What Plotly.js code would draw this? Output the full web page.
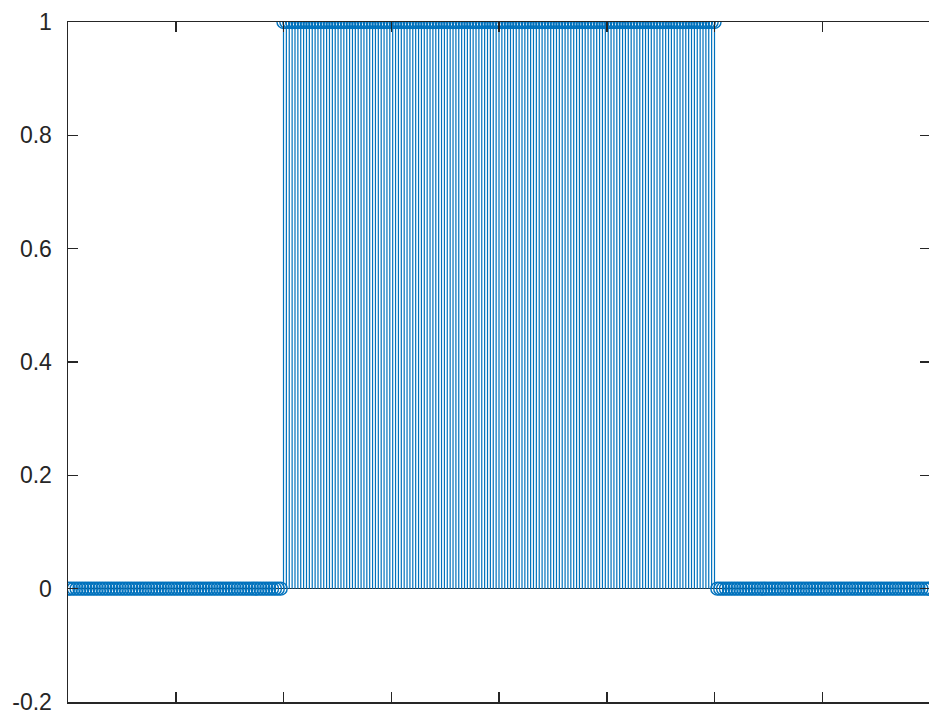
<!DOCTYPE html>
<html>
<head>
<meta charset="utf-8">
<script src="https://cdn.plot.ly/plotly-3.0.1.min.js"></script>
<style>html,body{margin:0;padding:0;overflow:hidden;background:#fff;}</style>
</head>
<body>
<div id="chart"></div>
<script>
// sample index n (x positions)
var n = [
-150,-149,-148,-147,-146,-145,-144,-143,-142,-141,-140,-139,-138,-137,-136,-135,-134,-133,-132,-131,
-130,-129,-128,-127,-126,-125,-124,-123,-122,-121,-120,-119,-118,-117,-116,-115,-114,-113,-112,-111,
-110,-109,-108,-107,-106,-105,-104,-103,-102,-101,-100,-99,-98,-97,-96,-95,-94,-93,-92,-91,
-90,-89,-88,-87,-86,-85,-84,-83,-82,-81,-80,-79,-78,-77,-76,-75,-74,-73,-72,-71,
-70,-69,-68,-67,-66,-65,-64,-63,-62,-61,-60,-59,-58,-57,-56,-55,-54,-53,-52,-51,
-50,-49,-48,-47,-46,-45,-44,-43,-42,-41,-40,-39,-38,-37,-36,-35,-34,-33,-32,-31,
-30,-29,-28,-27,-26,-25,-24,-23,-22,-21,-20,-19,-18,-17,-16,-15,-14,-13,-12,-11,
-10,-9,-8,-7,-6,-5,-4,-3,-2,-1,0,1,2,3,4,5,6,7,8,9,
10,11,12,13,14,15,16,17,18,19,20,21,22,23,24,25,26,27,28,29,
30,31,32,33,34,35,36,37,38,39,40,41,42,43,44,45,46,47,48,49,
50,51,52,53,54,55,56,57,58,59,60,61,62,63,64,65,66,67,68,69,
70,71,72,73,74,75,76,77,78,79,80,81,82,83,84,85,86,87,88,89,
90,91,92,93,94,95,96,97,98,99,100,101,102,103,104,105,106,107,108,109,
110,111,112,113,114,115,116,117,118,119,120,121,122,123,124,125,126,127,128,129,
130,131,132,133,134,135,136,137,138,139,140,141,142,143,144,145,146,147,148,149,
150];
// pulse values
var values = [
0,0,0,0,0,0,0,0,0,0,0,0,0,0,0,0,0,0,0,0,
0,0,0,0,0,0,0,0,0,0,0,0,0,0,0,0,0,0,0,0,
0,0,0,0,0,0,0,0,0,0,0,0,0,0,0,0,0,0,0,0,
0,0,0,0,0,0,0,0,0,0,0,0,0,0,0,1,1,1,1,1,
1,1,1,1,1,1,1,1,1,1,1,1,1,1,1,1,1,1,1,1,
1,1,1,1,1,1,1,1,1,1,1,1,1,1,1,1,1,1,1,1,
1,1,1,1,1,1,1,1,1,1,1,1,1,1,1,1,1,1,1,1,
1,1,1,1,1,1,1,1,1,1,1,1,1,1,1,1,1,1,1,1,
1,1,1,1,1,1,1,1,1,1,1,1,1,1,1,1,1,1,1,1,
1,1,1,1,1,1,1,1,1,1,1,1,1,1,1,1,1,1,1,1,
1,1,1,1,1,1,1,1,1,1,1,1,1,1,1,1,1,1,1,1,
1,1,1,1,1,1,0,0,0,0,0,0,0,0,0,0,0,0,0,0,
0,0,0,0,0,0,0,0,0,0,0,0,0,0,0,0,0,0,0,0,
0,0,0,0,0,0,0,0,0,0,0,0,0,0,0,0,0,0,0,0,
0,0,0,0,0,0,0,0,0,0,0,0,0,0,0,0,0,0,0,0,
0];
var yTickVals = [-0.2, 0, 0.2, 0.4, 0.6, 0.8, 1];
var yTickText = ["-0.2", "0", "0.2", "0.4", "0.6", "0.8", "1"];

var stemX = [], stemY = [];
for (var i = 0; i < n.length; i++) {
  stemX.push(n[i], n[i], null);
  stemY.push(0, values[i], null);
}
var blue = '#0072BD';
var dark = '#262626';
var data = [
  {x: stemX, y: stemY, type: 'scatter', mode: 'lines',
   line: {color: blue, width: 1.2}, hoverinfo: 'skip', showlegend: false},
  {x: n, y: values, type: 'scatter', mode: 'markers',
   marker: {symbol: 'circle-open', size: 13, color: blue, line: {width: 1.4, color: blue}},
   showlegend: false}
];
var layout = {
  width: 931, height: 715,
  margin: {l: 68, r: 1, t: 22, b: 13},
  paper_bgcolor: '#fff', plot_bgcolor: '#fff',
  font: {family: 'Liberation Sans, Arial, sans-serif', color: dark, size: 23},
  xaxis: {range: [-150, 150], showgrid: false, zeroline: false,
          showline: true, linecolor: dark, linewidth: 1.5, mirror: 'ticks',
          ticks: 'inside', ticklen: 10, tickwidth: 1.5, tickcolor: dark,
          tick0: 0, dtick: 37.5, showticklabels: false},
  yaxis: {range: [-0.2, 1], showgrid: false,
          zeroline: true, zerolinecolor: dark, zerolinewidth: 1,
          showline: true, linecolor: dark, linewidth: 1.5, mirror: 'ticks',
          ticks: 'inside', ticklen: 10, tickwidth: 1.5, tickcolor: dark,
          tickmode: 'array', tickvals: yTickVals, ticktext: yTickText,
          ticklabelstandoff: 10, ticklabeloverflow: 'allow',
          tickfont: {family: 'Liberation Sans, Arial, sans-serif', size: 23, color: dark}}
};
Plotly.newPlot('chart', data, layout, {displayModeBar: false, staticPlot: true});
</script>
</body>
</html>
